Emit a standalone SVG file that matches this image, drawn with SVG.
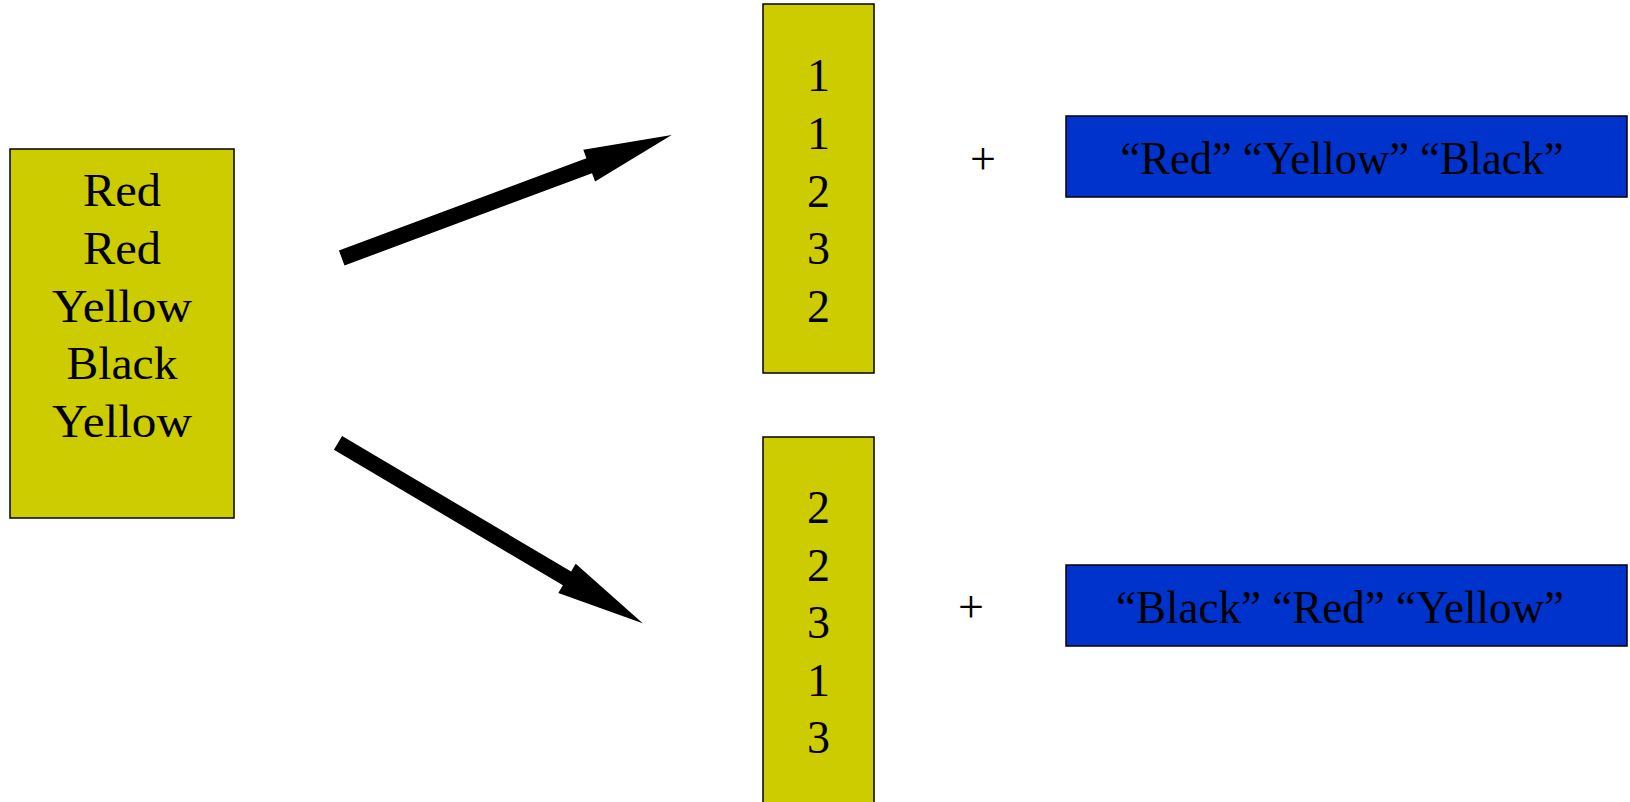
<svg xmlns="http://www.w3.org/2000/svg" width="1630" height="802" viewBox="0 0 1630 802">
<style>
.y{fill:#CCCC00;stroke:#000;stroke-width:1.5}
.b{fill:#0033CC;stroke:#000;stroke-width:1.5}
text{font-family:"Liberation Serif","Times New Roman",serif;font-size:46px;fill:#000;text-anchor:middle}
.arr{fill:#000;stroke:none}
</style>
<rect width="1630" height="802" fill="#fff"/>
<g id="source">
<rect class="y" x="10" y="149" width="224" height="369"/>
<text x="122" y="206" textLength="78" lengthAdjust="spacingAndGlyphs">Red</text>
<text x="122" y="263.75" textLength="78" lengthAdjust="spacingAndGlyphs">Red</text>
<text x="122" y="321.5" textLength="140" lengthAdjust="spacingAndGlyphs">Yellow</text>
<text x="122" y="379.25" textLength="111" lengthAdjust="spacingAndGlyphs">Black</text>
<text x="122" y="437" textLength="140" lengthAdjust="spacingAndGlyphs">Yellow</text>
</g>
<g id="codes1">
<rect class="y" x="763" y="4" width="111" height="369"/>
<text x="818.5" y="91">1</text>
<text x="818.5" y="148.75">1</text>
<text x="818.5" y="206.5">2</text>
<text x="818.5" y="264.25">3</text>
<text x="818.5" y="322">2</text>
</g>
<g id="codes2">
<rect class="y" x="763" y="437" width="111" height="380"/>
<text x="818.5" y="523">2</text>
<text x="818.5" y="580.5">2</text>
<text x="818.5" y="638">3</text>
<text x="818.5" y="695.5">1</text>
<text x="818.5" y="753">3</text>
</g>
<g id="plus1"><text x="983" y="174">+</text></g>
<g id="plus2"><text x="971" y="622">+</text></g>
<g id="levels1">
<rect class="b" x="1066" y="116" width="561" height="81"/>
<text x="1342" y="174" textLength="443" lengthAdjust="spacingAndGlyphs">“Red” “Yellow” “Black”</text>
</g>
<g id="levels2">
<rect class="b" x="1066" y="565" width="561" height="81"/>
<text x="1340" y="622.5" textLength="448" lengthAdjust="spacingAndGlyphs">“Black” “Red” “Yellow”</text>
</g>
<g id="connectors">
<polygon class="arr" points="338.9,250.5 586.4,158.2 583.3,149.8 671.7,135 595.1,181.6 592.0,173.2 344.5,265.5"/>
<polygon class="arr" points="342.1,435.9 571.1,571.5 575.7,563.8 642.7,623.3 558.3,593.0 562.9,585.3 333.9,449.7"/>
</g>
</svg>
